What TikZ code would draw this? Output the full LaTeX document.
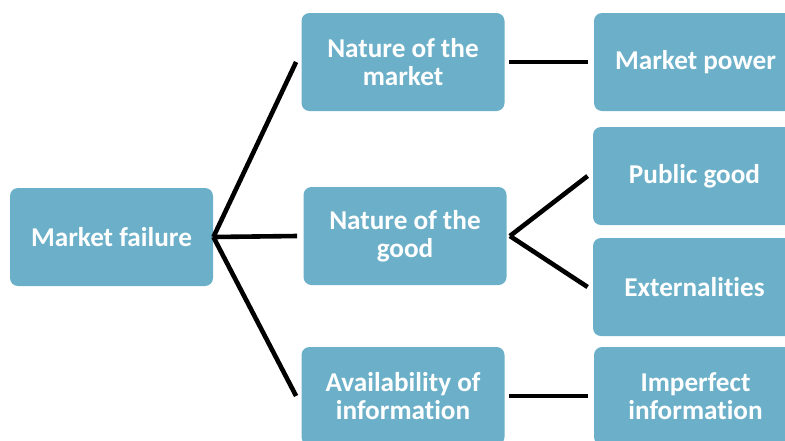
\documentclass[tikz,border=0pt]{standalone}
\usepackage{fontspec}
\setmainfont{Carlito}[Ligatures = NoCommon]
\usepackage{tikz}
\definecolor{box blue}{rgb}{0.4196, 0.6902, 0.7843}

\tikzset{
	box/.style = {fill = box blue, rounded corners = 4pt, text = white,
		font = \fontsize{13.6}{14}\selectfont\bfseries, align = center,
		minimum width = 101.5pt, minimum height = 49pt, inner sep = 0pt},
	link/.style = {line width = 2.3pt, black}
}

\begin{document}
\begin{tikzpicture}[x = 0.5pt, y = -0.5pt]
			\useasboundingbox (0, 0) rectangle (785, 440);
			\clip (0, 0) rectangle (785, 440);
			% Root
			\node[box] (fail) at (111.5, 237) {Market failure};
			% Middle column
			\begin{scope}
				\node[box] (market) at (403, 62) {Nature of the\\market};
				\node[box] (good) at (405, 236) {Nature of the\\good};
				\node[box] (avail) at (403, 396) {Availability of\\information};
			\end{scope}
			% Right column
			\begin{scope}
				\node[box] (power) at (695.5, 62) {Market power};
				\node[box] (public) at (694.5, 176) {Public good};
				\node[box] (extern) at (694.5, 287) {Externalities};
				\node[box] (imperf) at (695.5, 396) {Imperfect\\information};
			\end{scope}
			% Links
			\draw[link] (fail.east) -- ([xshift = -2.5pt]market.west);
			\draw[link] (fail.east) -- ([xshift = -3pt]good.west);
			\draw[link] (fail.east) -- ([xshift = -2.5pt]avail.west);
			\draw[link] ([xshift = 2pt]market.east) -- ([xshift = -3pt]power.west);
			\draw[link] ([xshift = 1.5pt]good.east) -- ([xshift = -2.5pt]public.west);
			\draw[link] ([xshift = 1.5pt]good.east) -- ([xshift = -2.5pt]extern.west);
			\draw[link] ([xshift = 2pt]avail.east) -- ([xshift = -3pt]imperf.west);
		\end{tikzpicture}
\end{document}
